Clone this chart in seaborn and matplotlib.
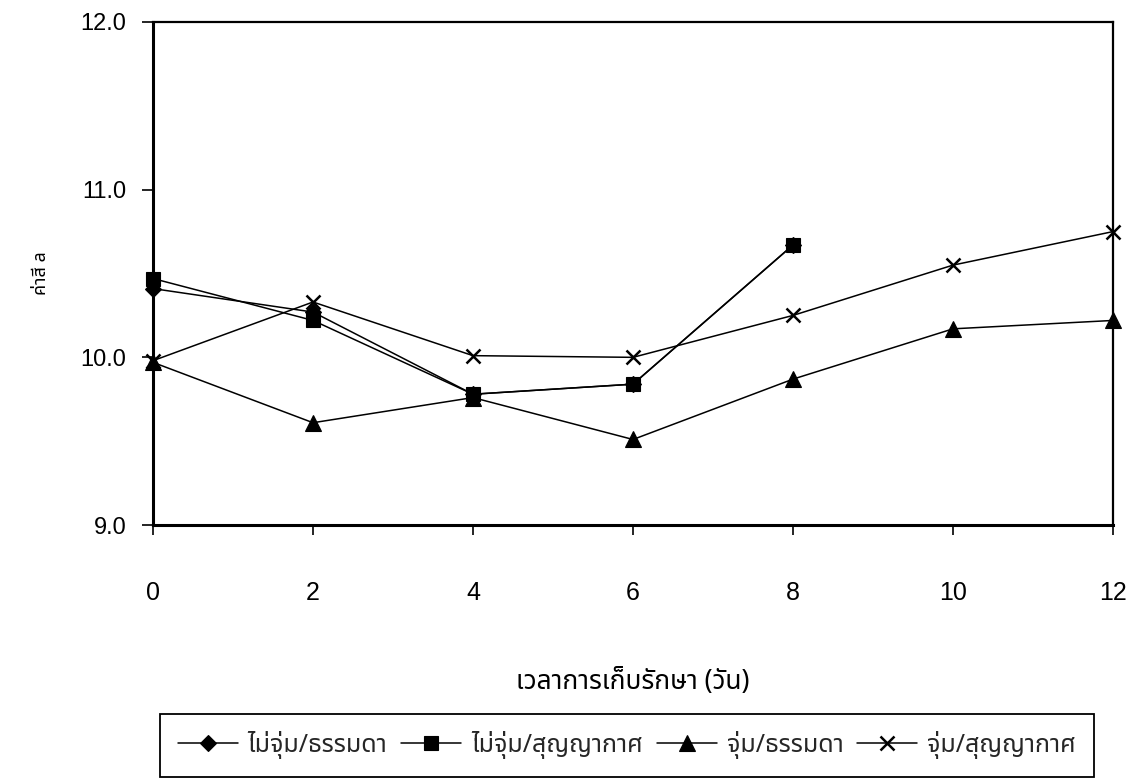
import matplotlib
matplotlib.use("Agg")
import matplotlib.pyplot as plt
import seaborn as sns
import pandas as pd

# Storage time (days) and colour a-value for each treatment
days = [0, 2, 4, 6, 8, 10, 12]
series_names = ["ไม่จุ่ม/ธรรมดา", "ไม่จุ่ม/สุญญากาศ", "จุ่ม/ธรรมดา", "จุ่ม/สุญญากาศ"]
no_dip_normal = [10.41, 10.27, 9.78, 9.84, 10.67]
no_dip_vacuum = [10.47, 10.22, 9.78, 9.84, 10.67]
dip_normal = [9.97, 9.61, 9.76, 9.51, 9.87, 10.17, 10.22]
dip_vacuum = [9.98, 10.33, 10.01, 10.00, 10.25, 10.55, 10.75]

x_ticks = [0, 2, 4, 6, 8, 10, 12]
y_ticks = [9.0, 10.0, 11.0, 12.0]
x_title = "เวลาการเก็บรักษา (วัน)"
y_title = "ค่าสี a"

values = [no_dip_normal, no_dip_vacuum, dip_normal, dip_vacuum]
marker_styles = ["D", "s", "^", "x"]
marker_sizes = [8, 10, 11, 10]

sns.set_theme(style="ticks")
plt.rcParams["font.family"] = ["Liberation Sans", "Noto Sans Thai", "DejaVu Sans"]
thai = ["Noto Sans Thai", "Liberation Sans", "DejaVu Sans"]

fig = plt.figure(figsize=(11.37, 7.78), dpi=100)
ax = fig.add_axes([153 / 1137, 1 - 525 / 778, 960 / 1137, 503 / 778])

for name, vals, mk, ms in zip(series_names, values, marker_styles, marker_sizes):
    df = pd.DataFrame({"day": days[:len(vals)], "value": vals})
    sns.lineplot(data=df, x="day", y="value", ax=ax, color="black",
                 linewidth=1.1, marker=mk, markersize=ms,
                 markeredgecolor="black", markerfacecolor="black",
                 markeredgewidth=1.8 if mk == "x" else 0.8,
                 label=name, clip_on=False)

ax.set_xlim(0, 12)
ax.set_ylim(9.0, 12.0)
ax.set_xticks(x_ticks)
ax.set_yticks(y_ticks)
ax.set_yticklabels([f"{t:.1f}" for t in y_ticks])
ax.tick_params(axis="x", direction="out", length=7, width=1.2, pad=33,
               labelsize=18, colors="black")
ax.tick_params(axis="y", direction="out", length=8, width=1.2, pad=11,
               labelsize=17, colors="black")
for side, sp in ax.spines.items():
    sp.set_visible(True)
    sp.set_color("black")
    sp.set_linewidth(1.6)
ax.spines["left"].set_linewidth(2.2)
ax.spines["bottom"].set_linewidth(2.2)

ax.set_xlabel(x_title, family=thai, fontsize=19, labelpad=46, color="black")
ax.set_ylabel(y_title, family=thai, fontsize=13, labelpad=22, color="black")

sns.move_legend(ax, loc="center", bbox_to_anchor=(627 / 1137, 1 - 745 / 778),
                bbox_transform=fig.transFigure, ncol=4, title=None,
                frameon=True, fancybox=False, edgecolor="black",
                prop={"family": thai, "size": 18},
                handlelength=2.4, handletextpad=0.4, columnspacing=0.55,
                borderpad=0.7)
leg = ax.get_legend()
leg.get_frame().set_linewidth(1.3)
leg.get_frame().set_alpha(1)

fig.savefig("out.png", dpi=100, facecolor="white")
